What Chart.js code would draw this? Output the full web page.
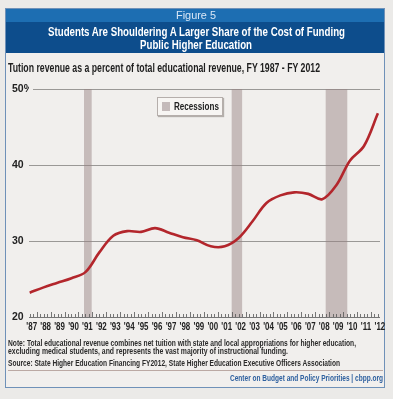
<!DOCTYPE html>
<html>
<head>
<meta charset="utf-8">
<script src="https://cdn.jsdelivr.net/npm/chart.js@4"></script>
<style>
  html, body { margin: 0; padding: 0; }
  body { width: 393px; height: 399px; background: #ebeae8; position: relative; overflow: hidden;
         font-family: 'Liberation Sans Narrow', 'Liberation Sans', sans-serif; }
  .frame { position: absolute; left: 5px; top: 8px; width: 380px; height: 380px; box-sizing: border-box;
           border: 1.5px solid #6f91b8; background: #f1efed; }
  .band1 { position: absolute; left: 6px; top: 9px; width: 378px; height: 13px; background: #1d6eb2; }
  .band2 { position: absolute; left: 6px; top: 22px; width: 378px; height: 31px; background: #0d4d8c; }
  .t { position: absolute; white-space: nowrap; line-height: 14px; height: 14px; transform-origin: 0 50%; }
  .legend { position: absolute; left: 157px; top: 97px; width: 66px; height: 19px; background: #f7f5f3;
            border: 1px solid #b5aeab; box-shadow: 1px 1px 1px #b4afab; box-sizing: border-box; }
  .legend i { position: absolute; left: 4px; top: 4px; width: 8px; height: 9px; background: #c4baba; }
  .rule { position: absolute; left: 8px; width: 375px; top: 370px; border-top: 1px solid #bba9a4; }
  canvas { position: absolute; left: 0; top: 80px; }
</style>
</head>
<body>
<div class="frame"></div>
<div class="band1"></div>
<div class="band2"></div>
<canvas id="c" width="393" height="258"></canvas>
<div class="legend"><i></i></div>
<div class="rule"></div>

<span class="t" data-x="176" data-y="15" data-w="40" style="font-size:11.5px;color:#d9e7f6">Figure 5</span>
<span class="t" data-x="48" data-y="32" data-w="297" style="font-size:12.5px;font-weight:bold;color:#fff">Students Are Shouldering A Larger Share of the Cost of Funding</span>
<span class="t" data-x="140" data-y="45" data-w="112" style="font-size:12.5px;font-weight:bold;color:#fff">Public Higher Education</span>
<span class="t" data-x="8" data-y="68" data-w="312" style="font-size:12px;font-weight:bold;color:#1e1e1e">Tution revenue as a percent of total educational revenue, FY 1987 - FY 2012</span>
<span class="t" data-x="174" data-y="106" data-w="45" style="font-size:11px;font-weight:bold;color:#222">Recessions</span>
<span class="t" data-x="8" data-y="343" data-w="348" style="font-size:8.5px;font-weight:bold;color:#2b2b2b">Note: Total educational revenue combines net tuition with state and local appropriations for higher education,</span>
<span class="t" data-x="8" data-y="351" data-w="280" style="font-size:8.5px;font-weight:bold;color:#2b2b2b">excluding medical students, and represents the vast majority of instructional funding.</span>
<span class="t" data-x="8" data-y="363" data-w="332" style="font-size:8.5px;font-weight:bold;color:#2b2b2b">Source: State Higher Education Financing FY2012, State Higher Education Executive Officers Association</span>
<span class="t" data-x="230" data-y="378" data-w="153" style="font-size:8.5px;font-weight:bold;color:#2e609f">Center on Budget and Policy Priorities | cbpp.org</span>

<script>
const years = [1987, 1988, 1989, 1990, 1991, 1992, 1993, 1994, 1995, 1996, 1997, 1998, 1999,
  2000, 2001, 2002, 2003, 2004, 2005, 2006, 2007, 2008, 2009, 2010, 2011, 2012];
const yearLabels = ["'87", "'88", "'89", "'90", "'91", "'92", "'93", "'94", "'95", "'96", "'97", "'98", "'99",
  "'00", "'01", "'02", "'03", "'04", "'05", "'06", "'07", "'08", "'09", "'10", "'11", "'12"];
const tuitionShare = [23.2, 23.9, 24.5, 25.1, 25.9, 28.5, 30.7, 31.3, 31.2, 31.7, 31.1, 30.5, 30.1,
  29.3, 29.3, 30.4, 32.6, 35.0, 36.0, 36.4, 36.2, 35.5, 37.3, 40.6, 42.5, 46.8];
const recessions = [[1990.9, 1991.45], [2001.5, 2002.25], [2008.25, 2009.8]];
const yTicks = [20, 30, 40, 50];

const FONT = "'Liberation Sans Narrow', 'Liberation Sans', sans-serif";

// squeeze each text line to the width it has in the original (condensed face)
document.querySelectorAll('.t').forEach((el) => {
  el.style.left = el.dataset.x + 'px';
  el.style.top = (el.dataset.y - 7) + 'px';
  const k = el.dataset.w / el.getBoundingClientRect().width;
  el.style.transform = `scaleX(${k})`;
});

// grey recession bands, top gridline (starts after the "50%" label) and minor ticks
const bands = {
  id: 'bands',
  beforeDatasetsDraw(chart) {
    const { ctx, chartArea: a, scales: { x, y } } = chart;
    ctx.save();
    ctx.strokeStyle = '#9a9896';
    ctx.lineWidth = 1;
    ctx.beginPath();
    const yTop = Math.round(y.getPixelForValue(50)) + 0.5;
    ctx.moveTo(a.left + 4, yTop);
    ctx.lineTo(a.right, yTop);
    ctx.stroke();

    ctx.fillStyle = 'rgba(150,130,130,0.48)';
    recessions.forEach(([s, e]) => {
      const x0 = x.getPixelForValue(s), x1 = x.getPixelForValue(e);
      ctx.fillRect(x0, a.top, x1 - x0, a.bottom - a.top);
    });
    ctx.strokeStyle = '#555';
    ctx.lineWidth = 0.8;
    ctx.beginPath();
    ctx.moveTo(a.left, a.bottom + 0.5);
    ctx.lineTo(a.right, a.bottom + 0.5);
    for (let v = years[0] - 0.5; v <= years[years.length - 1] + 0.5; v += 0.25) {
      const px = Math.round(x.getPixelForValue(v)) + 0.5;
      if (px < a.left || px > a.right) continue;
      const h = Number.isInteger(v - 0.5) ? 5 : 3;
      ctx.moveTo(px, a.bottom);
      ctx.lineTo(px, a.bottom - h);
    }
    ctx.stroke();
    ctx.restore();
  },
  // year labels, drawn narrow like the condensed face of the original
  afterDraw(chart) {
    const { ctx, chartArea: a, scales: { x } } = chart;
    ctx.save();
    ctx.fillStyle = '#222';
    ctx.font = `bold 11px ${FONT}`;
    ctx.textAlign = 'center';
    ctx.textBaseline = 'middle';
    years.forEach((yr, i) => {
      ctx.save();
      ctx.translate(x.getPixelForValue(yr) + 2, a.bottom + 10);
      ctx.scale(0.72, 1);
      ctx.fillText(yearLabels[i], 0, 0);
      ctx.restore();
    });
    ctx.restore();
  }
};

new Chart(document.getElementById('c'), {
  type: 'line',
  data: {
    datasets: [{
      data: years.map((y, i) => ({ x: y, y: tuitionShare[i] })),
      borderColor: '#b3262c',
      borderWidth: 2.6,
      pointRadius: 0,
      tension: 0.35,
    }],
  },
  options: {
    responsive: false,
    animation: false,
    layout: { padding: { top: 9, right: 13, left: 12, bottom: 0 } },
    plugins: { legend: { display: false }, tooltip: { enabled: false } },
    scales: {
      x: {
        type: 'linear',
        min: 1986.95,
        max: 2012.15,
        afterBuildTicks: (s) => { s.ticks = years.map((v) => ({ value: v })); },
        afterFit: (s) => { s.height = 21; },
        grid: { display: false, drawTicks: false },
        border: { display: false },
        ticks: { display: false },
      },
      y: {
        min: 20,
        max: 50,
        afterBuildTicks: (s) => { s.ticks = yTicks.map((v) => ({ value: v })); },
        afterFit: (s) => { s.width = 17; },
        border: { display: false },
        grid: {
          drawTicks: false,
          color: (c) => (c.tick && (c.tick.value === 20 || c.tick.value === 50) ? 'rgba(0,0,0,0)' : '#9a9896'),
          lineWidth: 1,
        },
        ticks: {
          crossAlign: 'far', padding: 0, color: '#222',
          font: { family: FONT, size: 10.5, weight: 'bold' },
          callback: (v) => (v === 50 ? v + '%' : v),
        },
      },
    },
  },
  plugins: [bands],
});
</script>
</body>
</html>
